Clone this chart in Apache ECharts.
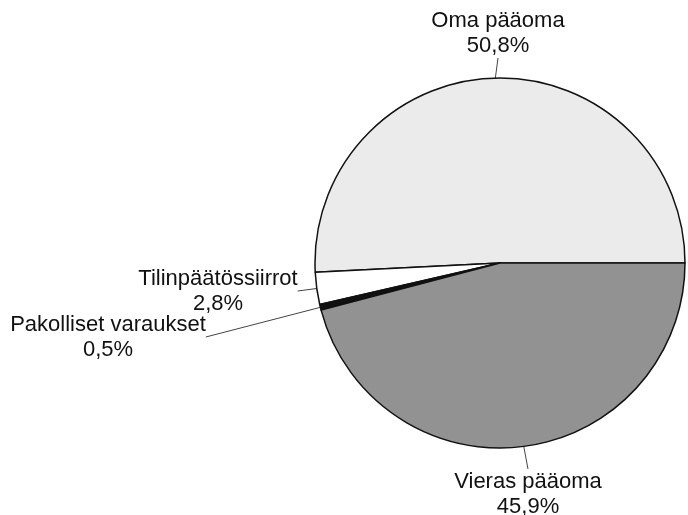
<!DOCTYPE html>
<html>
<head>
<meta charset="utf-8">
<script src="https://cdn.jsdelivr.net/npm/echarts@6/dist/echarts.min.js"></script>
<style>
  html, body { margin: 0; padding: 0; background: #fff; }
  #chart { width: 688px; height: 515px; }
</style>
</head>
<body>
<div id="chart"></div>
<script>
// data
const names = ['Oma pääoma', 'Tilinpäätössiirrot', 'Pakolliset varaukset', 'Vieras pääoma'];
const values = [50.8, 2.8, 0.5, 45.9];
const colors = ['#ebebeb', '#ffffff', '#111111', '#929292'];

// label block centres (layout only)
const labelPos = [[498, 33], [218, 291], [108, 337], [528, 494]];

const chart = echarts.init(document.getElementById('chart'));

chart.setOption({
  animation: false,
  series: [{
    type: 'pie',
    center: [500, 263],
    radius: 185,
    startAngle: 0,
    clockwise: false,
    data: names.map((n, i) => ({
      name: n,
      value: values[i],
      itemStyle: { color: colors[i] }
    })),
    itemStyle: { borderColor: '#111', borderWidth: 1.5 },
    label: {
      show: true,
      position: 'outside',
      formatter: p => p.name + '\n' + p.value.toFixed(1).replace('.', ',') + '%',
      fontFamily: 'Liberation Sans, Arial, sans-serif',
      fontSize: 22,
      lineHeight: 25,
      color: '#111',
      align: 'center'
    },
    labelLine: {
      show: true,
      length: 10,
      length2: 0,
      lineStyle: { color: '#444', width: 1 }
    },
    labelLayout: function (params) {
      const pos = labelPos[params.dataIndex];
      return {
        x: pos[0],
        y: pos[1],
        align: 'center',
        verticalAlign: 'middle'
      };
    },
    emphasis: { disabled: true }
  }]
});
</script>
</body>
</html>
